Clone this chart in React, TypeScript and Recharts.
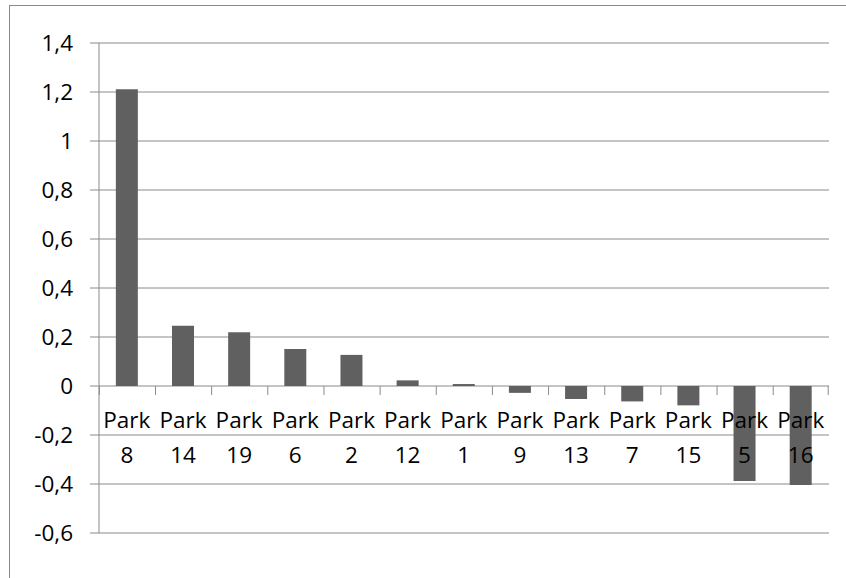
import { BarChart, Bar, XAxis, YAxis, CartesianGrid, LabelList } from 'recharts';

const parks = ['Park 8', 'Park 14', 'Park 19', 'Park 6', 'Park 2', 'Park 12', 'Park 1', 'Park 9', 'Park 13', 'Park 7', 'Park 15', 'Park 5', 'Park 16'];
const values = [1.211, 0.246, 0.219, 0.151, 0.127, 0.023, 0.008, -0.028, -0.053, -0.063, -0.079, -0.388, -0.404];
const yTicks = [-0.6, -0.4, -0.2, 0, 0.2, 0.4, 0.6, 0.8, 1, 1.2, 1.4];

const data = parks.map((name, i) => ({ name, value: values[i] }));

const FONT = "'Open Sans', sans-serif";
const GRID = '#8a8a8a';
const GAP = 0.3; // barCategoryGap as a fraction of the band

const fmt = (v: number) => String(Number(v.toFixed(1))).replace('.', ',');

// category label sitting under the zero line, plus the band boundary ticks
function CategoryLabel(props: any) {
  const { x, y, width, height, value, index } = props;
  const v = values[index];
  const top = Math.min(y, y + height);
  const bottom = Math.max(y, y + height);
  const zeroY = v >= 0 ? bottom : top;
  const band = width / (1 - 2 * GAP);
  const start = x - band * GAP;
  const cx = x + width / 2;
  const [word, num] = String(value).split(' ');
  return (
    <g>
      <line x1={start} x2={start} y1={zeroY} y2={zeroY + 9} stroke={GRID} strokeWidth={1} />
      {index === parks.length - 1 && (
        <line x1={start + band} x2={start + band} y1={zeroY} y2={zeroY + 9} stroke={GRID} strokeWidth={1} />
      )}
      <text x={cx} y={zeroY + 42} textAnchor="middle" fontFamily={FONT} fontSize={22.5} fill="#000">
        {word}
      </text>
      <text x={cx} y={zeroY + 77} textAnchor="middle" fontFamily={FONT} fontSize={22.5} fill="#000">
        {num}
      </text>
    </g>
  );
}

export default function App() {
  return (
    <div style={{ position: 'absolute', left: 0, top: 0, width: 846, height: 578, overflow: 'hidden', background: '#fff' }}>
      <div style={{ position: 'absolute', left: 9, top: 5, width: 900, height: 700, border: `1px solid ${GRID}` }} />
      <BarChart
        width={846}
        height={578}
        data={data}
        margin={{ top: 43, right: 17, bottom: 45, left: 0 }}
        barCategoryGap={`${GAP * 100}%`}
        style={{ position: 'absolute', left: 0, top: 0 }}
      >
        <CartesianGrid vertical={false} stroke={GRID} strokeWidth={1} />
        <XAxis dataKey="name" type="category" hide />
        <YAxis
          type="number"
          domain={[-0.6, 1.4]}
          ticks={yTicks}
          width={99}
          tickSize={9}
          tickMargin={17}
          tickFormatter={fmt}
          axisLine={{ stroke: GRID }}
          tickLine={{ stroke: GRID }}
          tick={{ fill: '#000', fontSize: 22.5, fontFamily: FONT }}
          interval={0}
        />
        <Bar dataKey="value" fill="#606060" isAnimationActive={false}>
          <LabelList dataKey="name" content={CategoryLabel} />
        </Bar>
      </BarChart>
    </div>
  );
}
